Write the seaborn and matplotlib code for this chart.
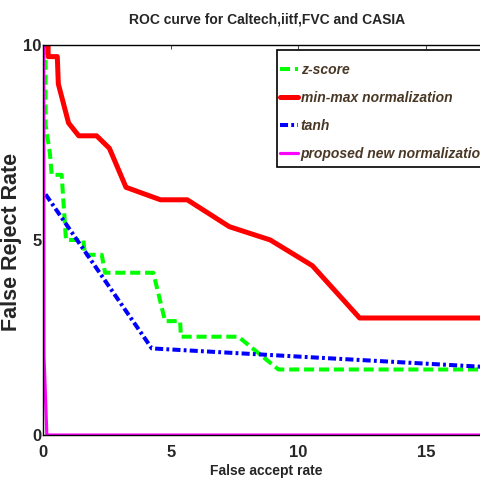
import matplotlib
matplotlib.use("Agg")
import matplotlib.pyplot as plt
from matplotlib.patches import Rectangle
import seaborn as sns
import pandas as pd

sns.set_style("white")
plt.rcParams['font.family'] = ['Liberation Sans', 'DejaVu Sans']

title = "ROC curve for Caltech,iitf,FVC and CASIA"
xlabel = "False accept rate"
ylabel = "False Reject Rate"

zscore_x = [0.1, 0.1, 0.27, 0.34, 0.73, 0.9, 1.58, 1.64, 2.3, 2.43, 4.32, 4.78, 5.37, 5.4, 7.65, 9.22, 18.0]
zscore_y = [10.0, 7.95, 7.22, 6.67, 6.67, 5.0, 5.0, 4.62, 4.62, 4.16, 4.16, 2.92, 2.92, 2.52, 2.52, 1.68, 1.68]

minmax_x = [0.1, 0.2, 0.2, 0.56, 0.6, 1.0, 1.4, 2.1, 2.6, 3.25, 4.6, 5.65, 7.3, 8.9, 10.55, 12.4, 18.0]
minmax_y = [10.0, 10.0, 9.7, 9.7, 9.0, 8.0, 7.67, 7.67, 7.35, 6.35, 6.03, 6.03, 5.34, 5.0, 4.34, 3.0, 3.0]

tanh_x = [0.1, 4.26, 18.0]
tanh_y = [6.17, 2.22, 1.72]

proposed_x = [0.03, 0.04, 0.15, 18.0]
proposed_y = [10.0, 2.0, 0.0, 0.0]

names = ["z-score", "min-max normalization", "tanh", "proposed new normalization"]

fig = plt.figure(figsize=(4.8, 4.84), dpi=100)
ax = fig.add_axes([0.0896, 0.1012, 0.9575, 0.806])

series = [
    (zscore_x, zscore_y, "#00ff00", (0, (2.5, 1.2)), 2.9),
    (minmax_x, minmax_y, "#ff0000", "-", 3.6),
    (tanh_x, tanh_y, "#0000ff", (0, (2.0, 0.8, 0.7, 0.8)), 2.9),
    (proposed_x, proposed_y, "#ff00ff", "-", 2.3),
]
for (xs, ys, c, ls, lw), nm in zip(series, names):
    df = pd.DataFrame({"x": xs, "y": ys})
    sns.lineplot(data=df, x="x", y="y", ax=ax, sort=False, estimator=None,
                 color=c, linestyle=ls, linewidth=lw, label=nm)

ax.set_xlim(0, 18)
ax.set_ylim(0, 10)
ax.set_xticks([0, 5, 10, 15])
ax.set_yticks([0, 5, 10])
ax.tick_params(direction="in", length=3, width=0.6, top=True, right=True,
               labelsize=12)
ax.tick_params(axis="x", pad=7)
ax.tick_params(axis="y", pad=1)
for lab in ax.get_xticklabels() + ax.get_yticklabels():
    lab.set_fontweight("bold")
for s in ax.spines.values():
    s.set_linewidth(1.0)
    s.set_color("black")

fig.text(267.5 / 480, 1 - 20 / 484, title, fontsize=10, fontweight="bold",
         ha="center", va="center")
ax.set_xlabel(xlabel, fontsize=10, fontweight="bold")
ax.xaxis.set_label_coords((266 - 43) / 459.6, (435 - 464) / 390)
ax.set_ylabel(ylabel, fontsize=15.5, fontweight="bold")
ax.yaxis.set_label_coords((22 - 43) / 459.6, 0.495)

# legend box (frame drawn separately to match the reference's padding)
bx0 = (277 - 43) / 459.6
by0 = (435 - 167) / 390
by1 = (435 - 50) / 390
ax.add_patch(Rectangle((bx0, by0), 1.0 - bx0 + 0.05, by1 - by0,
                       transform=ax.transAxes, facecolor="white",
                       edgecolor="black", linewidth=1.2, zorder=4,
                       clip_on=False))
leg = ax.legend(loc="upper left", bbox_to_anchor=(bx0, (435 - 60) / 390),
                frameon=False, handlelength=1.3,
                handletextpad=0.2, borderpad=0.2, labelspacing=1.02,
                borderaxespad=0,
                prop={"style": "italic", "weight": "bold", "size": 10})
leg.set_zorder(5)
for t in leg.get_texts():
    t.set_color("#4a3826")

fig.savefig("out.png", dpi=100)
